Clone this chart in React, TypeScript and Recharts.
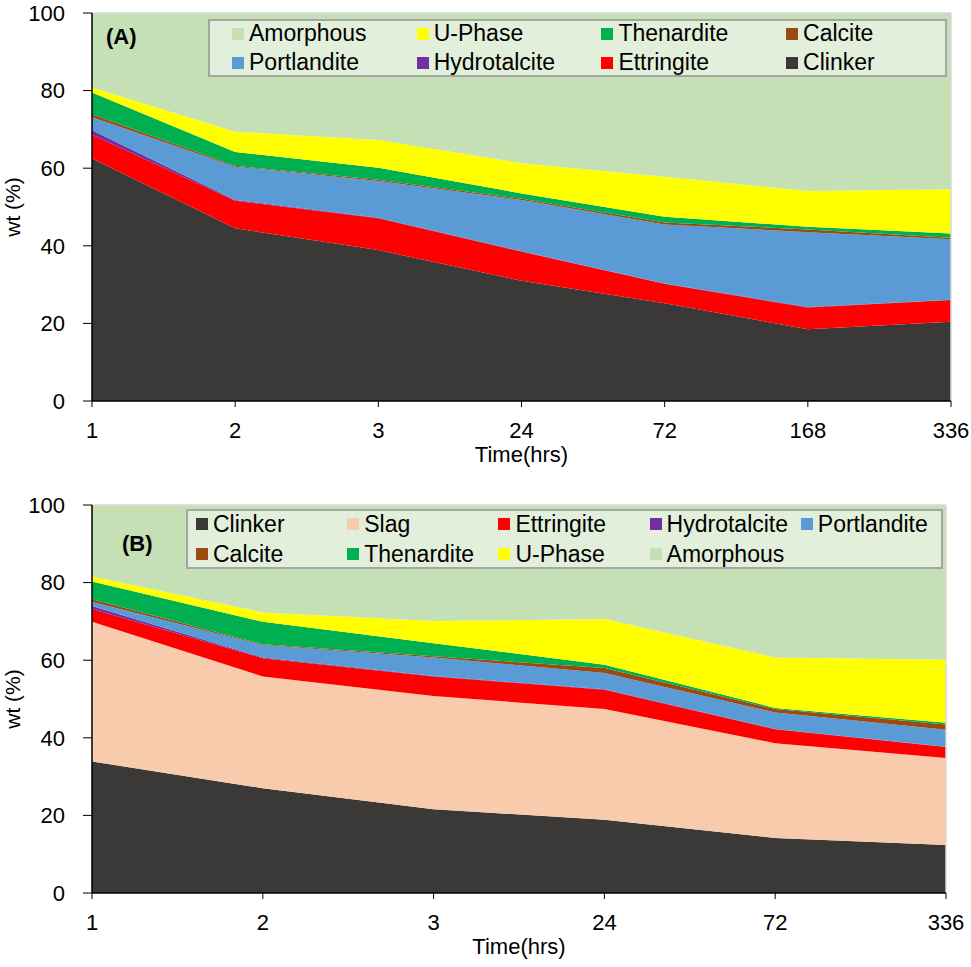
import React from 'react';
import { AreaChart, Area, XAxis, YAxis, ReferenceLine, Label } from 'recharts';

// (A) phase assemblage, wt %
const timesA = ['1', '2', '3', '24', '72', '168', '336'];
const clinkerA = [62.5, 44.5, 38.9, 31.0, 25.2, 18.5, 20.4];
const ettringiteA = [6.1, 7.1, 8.2, 7.5, 5.0, 5.6, 5.6];
const hydrotalciteA = [1.2, 0.2, 0.1, 0.1, 0.1, 0.1, 0.1];
const portlanditeA = [3.3, 8.6, 9.5, 13.2, 15.2, 19.3, 15.6];
const calciteA = [0.8, 0.2, 0.3, 0.3, 0.5, 0.7, 0.4];
const thenarditeA = [5.6, 3.6, 3.1, 1.4, 1.5, 0.7, 1.1];
const uPhaseA = [1.3, 5.2, 7.2, 7.8, 10.3, 9.2, 11.4];
const amorphousA = [19.2, 30.6, 32.7, 38.7, 42.2, 45.9, 45.4];

// (B) slag blend, wt %
const timesB = ['1', '2', '3', '24', '72', '336'];
const clinkerB = [33.9, 27.0, 21.6, 18.9, 14.2, 12.4];
const slagB = [36.0, 28.8, 29.2, 28.5, 24.4, 22.4];
const ettringiteB = [3.3, 4.7, 5.0, 5.0, 3.6, 2.8];
const hydrotalciteB = [0.8, 0.2, 0.1, 0.1, 0.1, 0.1];
const portlanditeB = [1.0, 3.2, 4.8, 4.2, 4.2, 4.4];
const calciteB = [0.7, 0.2, 0.3, 1.3, 0.9, 1.3];
const thenarditeB = [4.6, 5.8, 3.4, 0.8, 0.3, 0.5];
const uPhaseB = [1.3, 2.4, 5.7, 11.8, 13.0, 16.2];
const amorphousB = [18.4, 27.7, 29.9, 29.4, 39.3, 39.9];

const yTicks = [0, 20, 40, 60, 80, 100];

const COLORS: Record<string, string> = {
  Clinker: '#3b3938',
  Slag: '#f8cbad',
  Ettringite: '#ff0000',
  Hydrotalcite: '#7030a0',
  Portlandite: '#5b9bd5',
  Calcite: '#9c4a12',
  Thenardite: '#00b050',
  'U-Phase': '#ffff00',
  Amorphous: '#c5e0b4',
};

// bottom -> top stacking order
const stackA: [string, number[]][] = [
  ['Clinker', clinkerA],
  ['Ettringite', ettringiteA],
  ['Hydrotalcite', hydrotalciteA],
  ['Portlandite', portlanditeA],
  ['Calcite', calciteA],
  ['Thenardite', thenarditeA],
  ['U-Phase', uPhaseA],
  ['Amorphous', amorphousA],
];

const stackB: [string, number[]][] = [
  ['Clinker', clinkerB],
  ['Slag', slagB],
  ['Ettringite', ettringiteB],
  ['Hydrotalcite', hydrotalciteB],
  ['Portlandite', portlanditeB],
  ['Calcite', calciteB],
  ['Thenardite', thenarditeB],
  ['U-Phase', uPhaseB],
  ['Amorphous', amorphousB],
];

const legendA = ['Amorphous', 'U-Phase', 'Thenardite', 'Calcite', 'Portlandite', 'Hydrotalcite', 'Ettringite', 'Clinker'];
const legendB = ['Clinker', 'Slag', 'Ettringite', 'Hydrotalcite', 'Portlandite', 'Calcite', 'Thenardite', 'U-Phase', 'Amorphous'];

const FONT = "'Liberation Sans', Arial, sans-serif";

function buildRows(times: string[], stack: [string, number[]][]) {
  return times.map((t, i) => {
    const row: Record<string, string | number> = { time: t };
    stack.forEach(([name, vals]) => {
      row[name] = vals[i];
    });
    return row;
  });
}

const TimeTick = ({ x, y, payload }: any) => (
  <text x={x} y={y} dy="0.71em" textAnchor="middle" fontSize={22} fontFamily={FONT} fill="#000">
    {payload.value}
  </text>
);

interface LegendBox {
  left: number;
  top: number;
  width: number;
  height: number;
  cols: number;
  padLeft: number;
  colWidth: number;
  rowTop: number;
  rowGap: number;
}

function PhaseLegend({ items, box }: { items: string[]; box: LegendBox }) {
  return (
    <div
      style={{
        position: 'absolute',
        left: box.left,
        top: box.top,
        width: box.width,
        height: box.height,
        boxSizing: 'border-box',
        background: '#e2efda',
        border: '2px solid #a5a5a5',
        fontFamily: FONT,
        fontSize: 23,
        color: '#000',
      }}
    >
      {items.map((name, i) => {
        const col = i % box.cols;
        const row = Math.floor(i / box.cols);
        return (
          <div
            key={name}
            style={{
              position: 'absolute',
              left: box.padLeft + col * box.colWidth - 2,
              top: box.rowTop + row * box.rowGap - 2 - 13,
              height: 26,
              display: 'flex',
              alignItems: 'center',
              whiteSpace: 'nowrap',
            }}
          >
            <span style={{ width: 12, height: 12, background: COLORS[name], marginRight: 5, display: 'inline-block' }} />
            <span>{name}</span>
          </div>
        );
      })}
    </div>
  );
}

interface PanelProps {
  times: string[];
  stack: [string, number[]][];
  top: number;
  height: number;
  marginRight: number;
  marginTop: number;
  tag: string;
  tagPos: [number, number];
  legend: string[];
  legendBox: LegendBox;
}

function Panel({ times, stack, top, height, marginRight, marginTop, tag, tagPos, legend, legendBox }: PanelProps) {
  const rows = buildRows(times, stack);
  return (
    <div style={{ position: 'absolute', left: 0, top, width: 971, height }}>
      <AreaChart
        width={971}
        height={height}
        data={rows}
        margin={{ top: marginTop, right: marginRight, left: 4, bottom: 14 }}
        style={{ overflow: 'visible' }}
      >
        <XAxis
          dataKey="time"
          interval={0}
          height={60}
          tickSize={6}
          tickMargin={15}
          tick={<TimeTick />}
          axisLine={{ stroke: '#000', strokeWidth: 1.5 }}
          tickLine={{ stroke: '#000' }}
        >
          <Label
            content={({ viewBox }: any) => (
              <text
                x={viewBox.x + viewBox.width / 2}
                y={viewBox.y + 61}
                textAnchor="middle"
                fontSize={22}
                fontFamily={FONT}
                fill="#000"
              >
                Time(hrs)
              </text>
            )}
          />
        </XAxis>
        <YAxis
          domain={[0, 100]}
          ticks={yTicks}
          width={88}
          tickSize={9}
          tickMargin={18}
          tick={{ fill: '#000', fontSize: 22, fontFamily: FONT }}
          axisLine={{ stroke: '#000', strokeWidth: 1.5 }}
          tickLine={{ stroke: '#000' }}
        >
          <Label
            content={({ viewBox }: any) => (
              <text
                transform={`translate(20, ${viewBox.y + viewBox.height / 2}) rotate(-90)`}
                textAnchor="middle"
                fontSize={21}
                fontFamily={FONT}
                fill="#000"
              >
                wt (%)
              </text>
            )}
          />
        </YAxis>
        {stack.map(([name]) => (
          <Area
            key={name}
            type="linear"
            dataKey={name}
            stackId="phases"
            fill={COLORS[name]}
            fillOpacity={1}
            stroke="none"
            isAnimationActive={false}
            activeDot={false}
            dot={false}
          />
        ))}
        <ReferenceLine y={100} stroke="#d9d9d9" strokeWidth={1.5} />
        <ReferenceLine x={times[times.length - 1]} stroke="#d9d9d9" strokeWidth={1.5} />
      </AreaChart>
      <div
        style={{
          position: 'absolute',
          left: tagPos[0],
          top: tagPos[1],
          fontFamily: FONT,
          fontWeight: 'bold',
          fontSize: 22,
          color: '#000',
        }}
      >
        {tag}
      </div>
      <PhaseLegend items={legend} box={legendBox} />
    </div>
  );
}

export default function App() {
  return (
    <div style={{ position: 'absolute', left: 0, top: 0, width: 971, height: 967, background: '#fff' }}>
      <Panel
        times={timesA}
        stack={stackA}
        top={0}
        height={475}
        marginTop={13}
        marginRight={20}
        tag="(A)"
        tagPos={[106, 24]}
        legend={legendA}
        legendBox={{ left: 208, top: 19, width: 739, height: 58, cols: 4, padLeft: 24, colWidth: 184.7, rowTop: 14.5, rowGap: 29 }}
      />
      <Panel
        times={timesB}
        stack={stackB}
        top={490}
        height={477}
        marginTop={15}
        marginRight={25}
        tag="(B)"
        tagPos={[122, 41]}
        legend={legendB}
        legendBox={{ left: 186, top: 19, width: 757, height: 60, cols: 5, padLeft: 10, colWidth: 151.2, rowTop: 15, rowGap: 30 }}
      />
    </div>
  );
}
